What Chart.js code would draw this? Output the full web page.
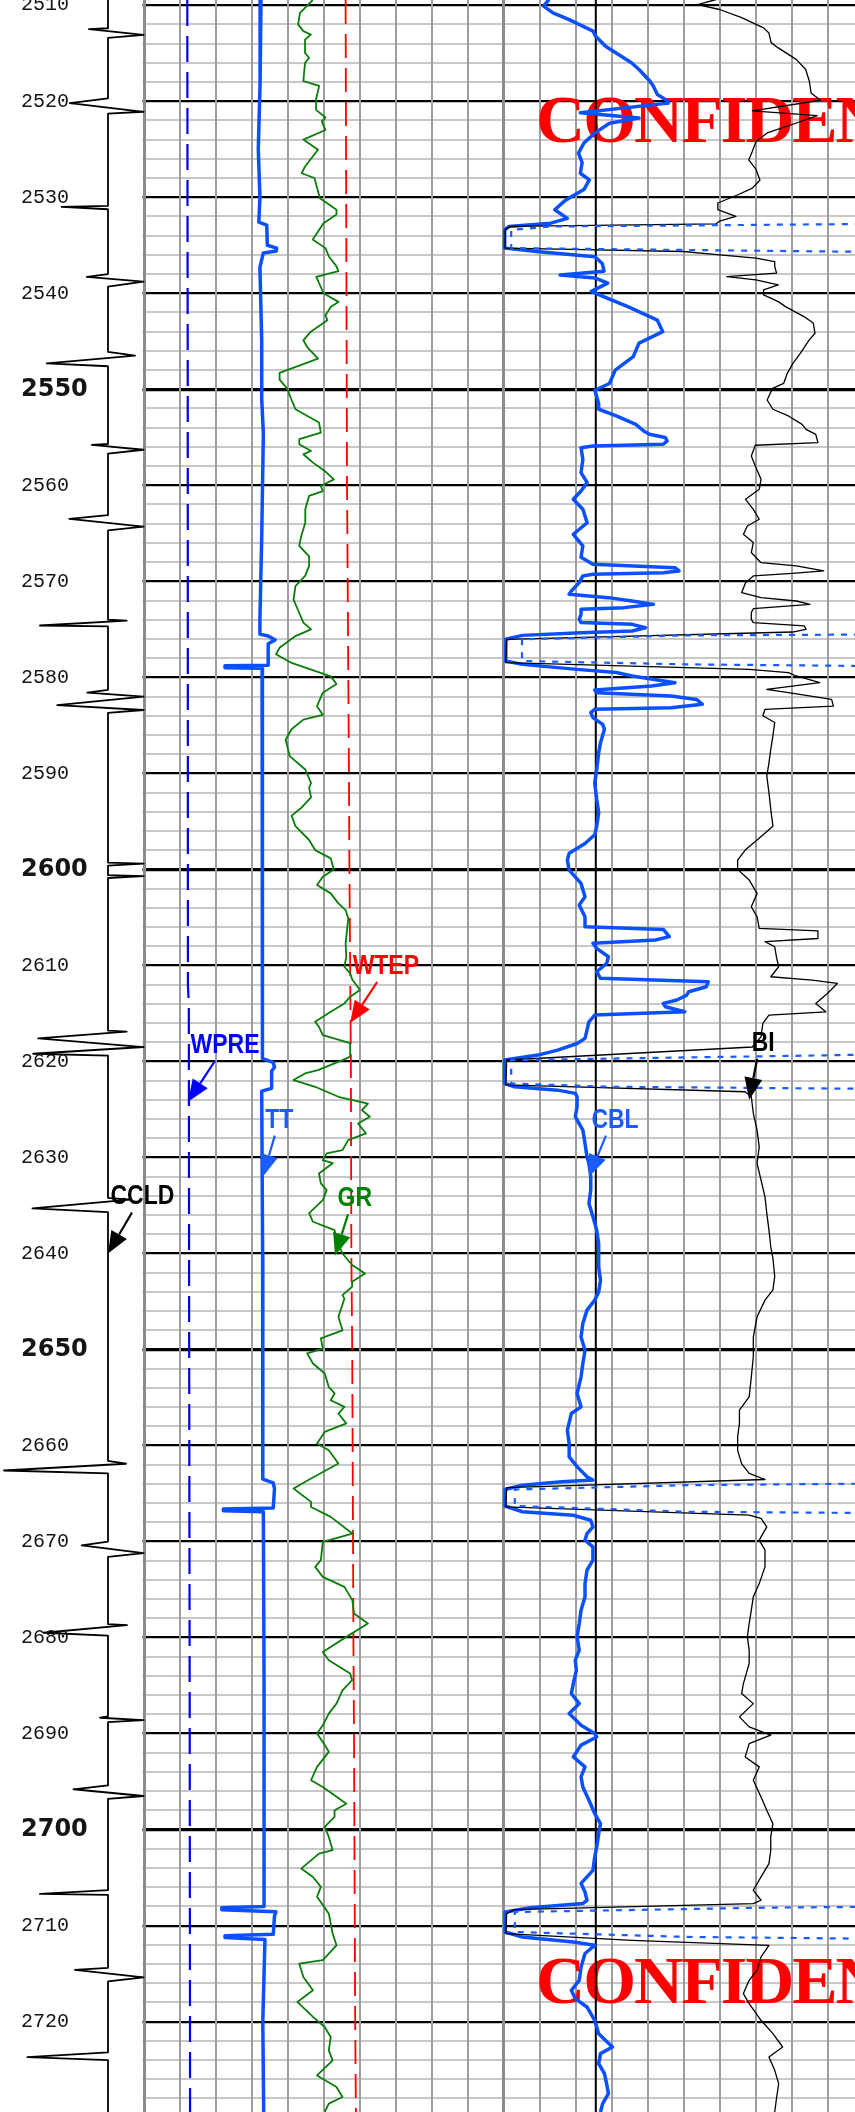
<!DOCTYPE html>
<html>
<head>
<meta charset="utf-8">
<title>Cement bond log</title>
<script src="https://cdn.jsdelivr.net/npm/chart.js@4.4.1/dist/chart.umd.min.js"></script>
<style>
  html, body { margin: 0; padding: 0; background: #fff; }
  canvas { display: block; }
</style>
</head>
<body>
<canvas id="logChart" width="855" height="2112"></canvas>
<script>
// depth window of the sheet (m)
const depthTop = 2509.46;
const depthBase = 2729.41;
const depthLabels = [2510, 2520, 2530, 2540, 2550, 2560, 2570, 2580, 2590, 2600, 2610,
    2620, 2630, 2640, 2650, 2660, 2670, 2680, 2690, 2700, 2710, 2720];
const boldDepths = [2550, 2600, 2650, 2700];

// curves, rows are [depth m, value]
// casing collar locator
const ccld = [
    [2509.46, 0], [2512.4, 0], [2512.5, -5.3], [2513.1, 9.9], [2513.4, 0],
    [2519.7, 0], [2520.2, -10.6], [2521.1, 9.9], [2521.3, 0],
    [2530.9, 0], [2531.0, -12.9], [2531.25, 0],
    [2538.0, 0], [2538.3, -5.9], [2538.8, 9.9], [2539.3, 0],
    [2546.1, 0], [2546.5, 7.5], [2547.3, -17.0], [2547.6, 0],
    [2555.7, 0], [2555.8, -4.5], [2556.3, 9.9], [2556.7, 0],
    [2563.1, 0], [2563.5, -10.75], [2564.3, 9.9], [2564.7, 0],
    [2574.0, 0], [2574.1, 5.2], [2574.6, -18.9], [2574.7, 0],
    [2581.3, 0], [2581.6, -5.75], [2582.0, 9.9], [2582.9, -14.1], [2583.4, 9.9], [2583.7, 0],
    [2599.3, 0], [2599.4, 9.9], [2599.6, 0], [2600.6, 0], [2600.7, 9.9], [2600.9, 0],
    [2616.8, 0], [2616.9, 5.2], [2617.6, -19.4], [2618.5, 9.9], [2619.2, -20.8], [2619.4, 0],
    [2634.2, 0], [2634.4, 6.1], [2635.3, -21.0], [2635.7, 0],
    [2661.6, 0], [2661.9, 5.0], [2662.6, -28.9], [2662.9, 0],
    [2670.0, 0], [2670.4, -7.3], [2671.2, 9.9], [2671.6, 0],
    [2678.6, 0], [2678.7, 5.3], [2679.5, -18.0], [2679.8, 0],
    [2688.2, 0], [2688.35, -2.2], [2688.6, 9.9], [2688.8, 0],
    [2695.4, 0], [2695.8, -9.6], [2696.5, 9.9], [2696.8, 0],
    [2706.3, 0], [2706.7, -18.9], [2706.8, 0],
    [2714.4, 0], [2714.6, -9.2], [2715.4, 9.9], [2715.8, 0],
    [2723.2, 0], [2723.7, -22.4], [2724.0, 0], [2729.41, 0]
];

// gamma ray (gAPI)
const gr = [
    [2509.46, 70.3], [2510.8, 65.0], [2512.0, 64.2], [2512.7, 66.4], [2513.06, 69.5], [2513.58, 67.1],
    [2514.97, 67.1], [2515.5, 68.8], [2516.0, 67.1], [2517.9, 66.4], [2518.4, 73.0], [2519.8, 71.7],
    [2520.9, 71.7], [2521.7, 75.6], [2522.1, 74.1], [2523.0, 75.6], [2524.0, 66.4], [2525.05, 72.5],
    [2526.8, 67.1], [2527.5, 65.7], [2528.0, 71.0], [2530.1, 73.3], [2531.3, 80.2], [2531.8, 80.2],
    [2532.7, 74.8], [2534.4, 70.3], [2535.3, 75.6], [2536.2, 77.1], [2537.2, 80.2], [2537.7, 81.0],
    [2538.3, 71.8], [2540.0, 74.8], [2540.9, 81.0], [2541.4, 77.9], [2542.3, 75.6], [2542.8, 76.4],
    [2544.0, 69.5], [2544.9, 66.4], [2545.6, 68.0], [2546.8, 72.5], [2548.3, 56.5], [2549.0, 56.5],
    [2549.9, 59.6], [2551.3, 61.8], [2552.08, 63.1], [2553.47, 72.9], [2554.51, 73.7], [2555.2, 64.7],
    [2555.73, 64.7], [2556.42, 69.6], [2556.77, 66.4], [2557.64, 70.4], [2558.5, 75.3], [2559.38, 79.1],
    [2560.07, 73.7], [2560.6, 74.5], [2561.1, 68.8], [2562.5, 67.2], [2563.9, 67.2], [2565.3, 65.5],
    [2566.3, 64.7], [2567.4, 68.8], [2568.4, 68.8], [2569.4, 67.2], [2570.5, 63.1], [2571.9, 62.3],
    [2573.3, 64.7], [2574.3, 66.4], [2575.0, 69.6], [2575.7, 63.1], [2576.9, 56.6], [2577.6, 55.0],
    [2578.5, 61.5], [2579.9, 77.8], [2580.7, 80.2], [2581.6, 74.5], [2583.0, 72.1], [2583.9, 74.5],
    [2584.4, 66.4], [2585.4, 61.5], [2586.5, 59.0], [2588.2, 60.7], [2589.6, 67.2], [2591.0, 69.6],
    [2591.5, 68.8], [2592.5, 69.6], [2593.6, 65.5], [2594.4, 61.5], [2595.5, 63.1], [2596.94, 68.8],
    [2597.99, 71.3], [2598.85, 77.8], [2600.0, 79.1], [2600.76, 74.5], [2601.63, 72.1], [2602.5, 77.8],
    [2603.54, 81.0], [2604.24, 84.0], [2605.1, 85.1], [2606.3, 84.6], [2607.7, 84.0], [2609.1, 84.3],
    [2610.14, 83.5], [2610.83, 85.9], [2611.5, 86.8], [2612.57, 90.0], [2613.26, 85.9], [2613.96, 83.5],
    [2614.83, 77.8], [2615.87, 71.3], [2616.4, 72.9], [2617.26, 74.5], [2618.1, 85.9], [2619.5, 85.9],
    [2619.86, 82.7], [2620.9, 72.5], [2621.25, 67.1], [2621.94, 62.3], [2622.64, 71.3], [2623.68, 81.0],
    [2624.4, 93.3], [2625.07, 90.8], [2625.76, 94.1], [2626.46, 89.2], [2627.5, 92.5], [2628.2, 85.1],
    [2629.24, 82.7], [2629.58, 76.1], [2630.28, 74.5], [2630.6, 78.6], [2631.67, 72.9], [2632.7, 73.7],
    [2633.4, 76.1], [2634.44, 74.5], [2635.8, 68.8], [2636.7, 70.4], [2637.57, 79.4], [2638.6, 80.2],
    [2640.0, 82.7], [2641.2, 86.7], [2642.08, 92.1], [2642.95, 86.7], [2643.47, 86.7], [2644.34, 82.7],
    [2644.7, 83.5], [2646.6, 81.0], [2648.0, 82.7], [2648.85, 73.7], [2649.9, 74.5], [2650.4, 68.0],
    [2651.46, 70.4], [2652.5, 75.3], [2653.9, 77.0], [2654.58, 79.4], [2655.28, 77.8], [2655.97, 83.5],
    [2656.67, 81.0], [2657.7, 84.3], [2658.58, 75.3], [2659.8, 72.1], [2660.5, 77.0], [2661.88, 81.0],
    [2663.44, 69.6], [2664.48, 62.3], [2665.87, 69.6], [2666.4, 69.6], [2667.43, 77.8], [2669.17, 86.8],
    [2670.03, 74.5], [2671.94, 73.7], [2672.64, 71.3], [2673.68, 74.5], [2674.72, 83.5], [2676.1, 86.8],
    [2677.5, 87.5], [2678.54, 93.3], [2679.93, 84.3], [2681.5, 74.5], [2682.36, 77.0], [2683.75, 85.9],
    [2684.44, 86.7], [2685.49, 82.7], [2686.88, 80.2], [2687.92, 77.0], [2689.13, 74.5], [2690.0, 72.1],
    [2690.87, 74.5], [2691.9, 77.0], [2693.47, 72.1], [2694.86, 69.6], [2695.56, 74.5], [2697.3, 84.3],
    [2697.99, 79.4], [2698.68, 79.4], [2699.72, 75.3], [2700.76, 77.0], [2702.15, 78.6], [2702.5, 72.9],
    [2704.06, 65.5], [2704.93, 70.4], [2705.97, 73.7], [2707.0, 72.1], [2708.75, 77.0], [2710.83, 78.6],
    [2712.05, 80.2], [2713.6, 74.5], [2713.96, 64.7], [2715.35, 66.4], [2716.74, 70.4], [2717.95, 63.9],
    [2719.5, 70.4], [2720.56, 75.3], [2721.6, 77.8], [2722.99, 77.0], [2724.03, 78.6], [2725.6, 72.1],
    [2726.8, 80.2], [2727.85, 82.7], [2728.54, 77.0], [2729.41, 75.3]
];

// transit time (us)
const tt = [
    [2509.46, 335.0], [2518.0, 335.5], [2525.0, 336.5], [2530.0, 335.6], [2532.6, 336.2], [2532.9, 331.8],
    [2535.0, 331.5], [2535.3, 326.3], [2535.6, 326.5], [2535.8, 333.7], [2537.3, 335.6], [2545.0, 334.6],
    [2551.0, 334.6], [2554.6, 333.7], [2565.4, 334.6], [2574.0, 335.6], [2575.5, 335.6], [2575.7, 331.0],
    [2576.1, 327.2], [2576.5, 331.0], [2578.75, 331.0], [2578.8, 355.0], [2579.0, 355.0], [2579.05, 334.4],
    [2590.0, 334.4], [2600.0, 334.0], [2610.0, 334.4], [2619.7, 334.0], [2620.1, 328.2], [2620.6, 327.5],
    [2621.0, 329.1], [2622.8, 329.1], [2623.1, 334.6], [2640.0, 334.1], [2663.5, 334.0], [2663.9, 328.2],
    [2664.5, 327.5], [2666.5, 328.2], [2666.6, 355.9], [2666.8, 355.9], [2666.9, 333.7], [2685.0, 333.3],
    [2700.0, 333.3], [2708.0, 333.3], [2708.15, 356.8], [2708.35, 356.8], [2708.55, 326.7], [2709.0, 327.5],
    [2710.9, 328.2], [2711.05, 355.0], [2711.25, 355.0], [2711.45, 332.8], [2720.0, 334.0], [2729.41, 333.5]
];

// well pressure (MPa) and well temperature (degC)
const wpre = [[2509.46, 24.05], [2550, 24.3], [2612, 24.4], [2614, 24.9], [2650, 25.1], [2690, 25.4], [2729.41, 25.6]];
const wtep = [[2509.46, 84.0], [2560, 84.6], [2590, 85.4], [2600, 85.6], [2620, 86.2], [2640, 86.4],
    [2650, 86.75], [2670, 87.1], [2680, 87.25], [2690, 87.5], [2720, 88.0], [2729.41, 88.3]];

// cement bond amplitude (mV)
const cbl = [
    [2509.41, 12.5], [2510.1, 11.0], [2510.8, 13.6], [2511.5, 18.1], [2512.7, 24.75], [2513.2, 25.4],
    [2514.3, 28.3], [2516.0, 35.4], [2516.7, 37.5], [2517.9, 40.5], [2518.45, 41.5], [2519.3, 42.6],
    [2520.0, 45.6], [2520.2, 45.6], [2521.2, 21.2], [2521.75, 37.5], [2522.3, 29.3], [2523.3, 25.3],
    [2524.35, 22.2], [2525.4, 20.7], [2526.4, 21.7], [2527.5, 21.2], [2528.2, 23.7], [2529.2, 22.2],
    [2530.3, 17.1], [2531.3, 14.1], [2532.2, 17.6], [2532.7, 13.0], [2533.05, 1.3], [2533.4, 0.2],
    [2535.3, 0.2], [2535.65, 9.0], [2536.2, 25.25], [2536.9, 27.3], [2537.7, 27.8], [2538.1, 15.6],
    [2538.4, 25.25], [2538.95, 28.8], [2539.8, 24.25], [2540.3, 27.3], [2541.4, 34.4], [2542.8, 42.6],
    [2544.0, 44.1], [2545.2, 37.5], [2546.6, 35.9], [2548.0, 30.9], [2549.4, 29.3], [2550.1, 25.25],
    [2551.5, 26.3], [2552.08, 26.3], [2552.78, 31.2], [2553.65, 36.6], [2554.34, 38.8], [2554.69, 40.4],
    [2555.03, 44.8], [2555.38, 45.3], [2555.73, 44.25], [2555.9, 24.7], [2556.08, 21.4], [2557.3, 21.9],
    [2558.68, 21.4], [2559.72, 23.1], [2560.6, 21.4], [2561.46, 19.25], [2562.5, 21.9], [2563.9, 23.1],
    [2565.1, 19.25], [2566.3, 21.9], [2567.5, 21.4], [2568.23, 24.7], [2568.58, 47.5], [2568.92, 48.6],
    [2569.1, 44.25], [2569.27, 24.7], [2569.44, 21.9], [2570.14, 20.9], [2571.0, 18.7], [2571.35, 18.1],
    [2571.7, 29.0], [2572.05, 35.6], [2572.4, 41.5], [2572.74, 33.4], [2572.9, 21.4], [2573.44, 21.4],
    [2573.96, 20.9], [2574.3, 21.4], [2574.48, 35.6], [2574.83, 39.3], [2575.17, 35.6], [2575.35, 21.4],
    [2575.63, 5.1], [2576.04, 0.5], [2578.3, 0.5], [2578.65, 5.1], [2579.17, 20.3], [2579.5, 31.2],
    [2579.86, 35.6], [2580.56, 47.5], [2580.9, 41.0], [2581.32, 25.2], [2581.6, 25.75], [2581.94, 46.4],
    [2582.3, 53.5], [2582.8, 55.1], [2583.16, 46.4], [2583.33, 25.2], [2583.68, 24.1], [2584.2, 24.7],
    [2584.9, 27.4], [2585.4, 27.9], [2586.8, 26.8], [2587.85, 26.3], [2589.6, 25.75], [2591.0, 25.2],
    [2592.7, 25.75], [2594.1, 26.3], [2595.5, 25.75], [2596.4, 25.2], [2597.3, 22.5], [2598.33, 18.1],
    [2599.03, 17.6], [2600.07, 18.1], [2601.46, 21.4], [2602.85, 22.5], [2603.72, 20.9], [2604.93, 22.5],
    [2605.97, 22.5], [2606.25, 44.25], [2607.0, 45.9], [2607.36, 42.05], [2607.7, 24.7], [2608.23, 25.75],
    [2609.1, 29.0], [2609.8, 28.5], [2610.66, 25.75], [2611.35, 26.8], [2611.7, 56.75], [2612.22, 56.2],
    [2612.74, 51.3], [2613.1, 50.75], [2613.6, 48.05], [2613.96, 44.25], [2614.3, 44.8], [2614.83, 50.2],
    [2615.17, 25.2], [2615.87, 23.6], [2616.74, 23.05], [2617.6, 22.5], [2618.13, 20.3], [2618.82, 14.9],
    [2619.34, 9.4], [2619.86, 0.2], [2622.3, 0.2], [2622.64, 2.9], [2622.99, 14.9], [2623.33, 19.8],
    [2623.68, 20.3], [2624.72, 20.3], [2625.76, 19.8], [2627.15, 21.9], [2628.54, 22.5], [2629.93, 23.05],
    [2630.63, 23.6], [2632.0, 24.1], [2633.4, 24.1], [2634.8, 23.6], [2636.18, 24.7], [2637.57, 25.75],
    [2638.96, 26.3], [2641.4, 26.3], [2642.8, 26.8], [2644.0, 26.3], [2644.86, 25.2], [2645.9, 23.05],
    [2647.3, 21.9], [2648.7, 21.4], [2650.07, 22.5], [2651.46, 21.9], [2652.85, 21.4], [2654.58, 20.3],
    [2655.97, 21.4], [2656.67, 18.7], [2658.4, 17.6], [2659.8, 18.1], [2661.18, 18.1], [2662.2, 20.3],
    [2663.26, 23.05], [2663.6, 24.7], [2663.78, 16.0], [2664.13, 5.1], [2664.58, 0.3], [2666.3, 0.3],
    [2666.9, 5.1], [2667.26, 19.25], [2667.78, 24.1], [2668.47, 24.7], [2669.17, 23.05], [2669.86, 22.5],
    [2670.56, 24.7], [2671.94, 24.7], [2672.99, 23.05], [2674.38, 22.5], [2675.76, 22.5], [2677.15, 21.4],
    [2678.54, 20.9], [2679.93, 20.3], [2681.3, 20.9], [2682.36, 19.8], [2683.4, 20.1], [2684.8, 19.25],
    [2685.83, 18.7], [2686.88, 20.9], [2687.92, 18.1], [2689.13, 21.4], [2690.0, 25.2], [2690.35, 25.75],
    [2691.2, 21.4], [2692.43, 19.25], [2693.47, 22.5], [2694.5, 21.4], [2695.56, 21.9], [2696.94, 23.6],
    [2698.33, 25.2], [2699.38, 26.8], [2700.42, 26.3], [2701.8, 25.75], [2702.85, 25.2], [2704.24, 24.7],
    [2705.6, 21.4], [2706.5, 22.5], [2707.36, 23.05], [2707.7, 21.9], [2708.13, 7.3], [2708.58, 0.3],
    [2710.66, 0.3], [2711.18, 5.1], [2711.7, 19.25], [2712.05, 25.2], [2712.9, 22.5], [2714.3, 21.4],
    [2715.7, 20.9], [2716.74, 18.7], [2717.6, 19.8], [2718.47, 23.05], [2719.86, 25.2], [2721.25, 26.3],
    [2722.64, 30.1], [2723.33, 26.8], [2724.38, 26.3], [2725.4, 27.9], [2726.46, 28.5], [2727.5, 29.0],
    [2728.54, 27.4], [2729.41, 26.8]
];
const cblCutoff = 25.5;

// bond index
const bi = [
    [2509.41, 0.589], [2509.93, 0.538], [2510.45, 0.599], [2511.3, 0.66], [2512.36, 0.721], [2512.9, 0.736],
    [2513.9, 0.742], [2514.45, 0.762], [2515.67, 0.8125], [2516.7, 0.838], [2517.9, 0.848], [2519.14, 0.853],
    [2519.9, 0.879], [2521.0, 0.69], [2521.5, 0.87], [2522.4, 0.8025], [2523.3, 0.731], [2524.2, 0.7],
    [2525.2, 0.69], [2526.1, 0.68], [2527.1, 0.7], [2528.2, 0.711], [2529.05, 0.69], [2529.74, 0.65],
    [2530.6, 0.594], [2531.3, 0.594], [2532.0, 0.644], [2532.5, 0.599], [2532.77, 0.589], [2533.04, 0.018],
    [2533.39, 0.003], [2535.3, 0.003], [2535.65, 0.497], [2536.0, 0.599], [2536.35, 0.7], [2536.7, 0.752],
    [2537.2, 0.752], [2537.9, 0.757], [2538.26, 0.619], [2538.6, 0.7], [2539.13, 0.762], [2539.65, 0.721],
    [2540.17, 0.721], [2540.87, 0.762], [2541.39, 0.782], [2542.43, 0.833], [2543.1, 0.859], [2544.17, 0.864],
    [2544.86, 0.848], [2546.25, 0.823], [2547.3, 0.8025], [2548.34, 0.787], [2549.38, 0.777], [2549.9, 0.746],
    [2551.12, 0.731], [2552.08, 0.747], [2552.78, 0.79], [2553.65, 0.828], [2554.17, 0.839], [2554.69, 0.866],
    [2555.56, 0.872], [2555.83, 0.698], [2556.94, 0.687], [2557.99, 0.698], [2559.38, 0.714], [2560.42, 0.709],
    [2561.46, 0.671], [2562.5, 0.6925], [2563.54, 0.709], [2564.24, 0.676], [2565.1, 0.665], [2565.97, 0.6925],
    [2567.0, 0.687], [2568.06, 0.714], [2568.4, 0.812], [2568.92, 0.888], [2569.17, 0.801], [2569.44, 0.6925],
    [2570.14, 0.671], [2571.18, 0.66], [2571.7, 0.714], [2572.05, 0.812], [2572.4, 0.85], [2572.85, 0.6925],
    [2573.26, 0.687], [2573.96, 0.687], [2574.3, 0.6925], [2574.65, 0.834], [2575.0, 0.839], [2575.28, 0.801],
    [2576.04, 0.0075], [2578.47, 0.005], [2579.17, 0.681], [2579.5, 0.79], [2579.86, 0.812], [2580.56, 0.877],
    [2581.25, 0.73], [2581.6, 0.79], [2582.3, 0.91], [2582.99, 0.915], [2583.33, 0.725], [2584.0, 0.719],
    [2584.7, 0.752], [2586.1, 0.747], [2587.5, 0.741], [2588.9, 0.736], [2590.28, 0.73], [2592.0, 0.736],
    [2593.75, 0.741], [2595.5, 0.747], [2596.94, 0.703], [2597.99, 0.67], [2599.03, 0.649], [2600.0, 0.649],
    [2601.1, 0.681], [2602.5, 0.703], [2603.9, 0.687], [2604.93, 0.703], [2606.15, 0.709], [2606.4, 0.872],
    [2607.2, 0.872], [2607.53, 0.725], [2608.06, 0.752], [2609.27, 0.7575], [2610.14, 0.763], [2611.18, 0.741],
    [2611.53, 0.856], [2611.88, 0.926], [2612.9, 0.899], [2613.96, 0.866], [2614.83, 0.894], [2615.17, 0.736],
    [2616.04, 0.719], [2617.43, 0.714], [2618.5, 0.69], [2619.85, 0.0075], [2622.45, 0.005], [2623.16, 0.67],
    [2623.68, 0.687], [2625.4, 0.6925], [2627.15, 0.703], [2628.9, 0.709], [2630.63, 0.703], [2632.36, 0.714],
    [2634.1, 0.725], [2635.83, 0.73], [2637.57, 0.736], [2639.3, 0.741], [2640.5, 0.747], [2642.4, 0.752],
    [2643.8, 0.747], [2644.86, 0.725], [2646.6, 0.703], [2648.7, 0.6925], [2650.76, 0.6925], [2652.85, 0.687],
    [2654.93, 0.681], [2656.32, 0.654], [2657.7, 0.654], [2659.1, 0.649], [2660.5, 0.649], [2661.88, 0.66],
    [2662.9, 0.681], [2663.54, 0.725], [2664.38, 0.0075], [2666.4, 0.005], [2667.26, 0.681], [2667.6, 0.714],
    [2668.47, 0.73], [2669.86, 0.709], [2670.9, 0.725], [2672.64, 0.725], [2674.38, 0.709], [2675.76, 0.6925],
    [2677.15, 0.687], [2678.54, 0.681], [2679.93, 0.676], [2681.3, 0.681], [2682.7, 0.681], [2684.8, 0.665],
    [2685.83, 0.66], [2686.88, 0.6925], [2688.26, 0.654], [2689.3, 0.681], [2690.17, 0.741], [2691.04, 0.681],
    [2692.43, 0.67], [2693.47, 0.709], [2694.86, 0.6925], [2696.6, 0.714], [2697.99, 0.73], [2699.38, 0.747],
    [2700.76, 0.741], [2702.15, 0.741], [2703.54, 0.736], [2704.93, 0.714], [2706.32, 0.6925], [2707.36, 0.714],
    [2707.7, 0.6925], [2708.33, 0.029], [2708.75, 0.0075], [2710.83, 0.005], [2711.53, 0.356], [2712.05, 0.736],
    [2713.26, 0.714], [2714.65, 0.703], [2715.7, 0.681], [2717.08, 0.665], [2718.13, 0.681], [2719.86, 0.714],
    [2721.25, 0.747], [2722.64, 0.774], [2723.68, 0.736], [2725.07, 0.752], [2726.46, 0.763], [2727.85, 0.7575],
    [2729.41, 0.752]
];

// curve name callouts: tip sits on the curve at this value / depth
const callouts = [
    {text: 'WPRE', color: '#0000ff', axis: 'xWPRE', value: 24.5, depth: 2624.2, lean: 27},
    {text: 'TT', color: '#1a5cff', axis: 'xTT', value: 334.0, depth: 2632.0, lean: 12},
    {text: 'CCLD', color: '#000000', axis: 'xCCL', value: 0, depth: 2640.0, lean: 24},
    {text: 'GR', color: '#008000', axis: 'xGR', value: 79.6, depth: 2640.2, lean: 13},
    {text: 'WTEP', color: '#ff0000', axis: 'xWTEP', value: 85.9, depth: 2616.0, lean: 27},
    {text: 'CBL', color: '#1a5cff', axis: 'xCBL', value: 23.6, depth: 2632.0, lean: 17},
    {text: 'BI', color: '#000000', axis: 'xBI', value: 0.681, depth: 2624.0, lean: 8}
];
const stampDepths = [2524.2, 2718.1];

// sheet layout (px): depth track, track 2, track 3
const W = 855;
const T1 = [0, 144], T2 = [144, 504], T3 = [504, 864];
const DIV = 36;

function trackAxis(track, vLeft, vRight) {
    const k = (vRight - vLeft) / (track[1] - track[0]);
    const a = vLeft - track[0] * k;
    const b = vLeft + (W - track[0]) * k;
    const axis = {type: 'linear', display: false, bounds: 'data'};
    if (a < b) { axis.min = a; axis.max = b; } else { axis.min = b; axis.max = a; axis.reverse = true; }
    return axis;
}

function curve(rows, axis, style) {
    return Object.assign({
        data: rows.map(r => ({x: r[1], y: r[0]})),
        xAxisID: axis,
        yAxisID: 'y',
        showLine: true,
        pointRadius: 0,
        pointHoverRadius: 0,
        fill: false,
        tension: 0,
        borderJoinStyle: 'round'
    }, style);
}

// axes must not push the plot area in from the canvas edges
function flush(axis) {
    if (axis.isHorizontal()) axis.height = 0; else axis.width = 0;
    axis.paddingTop = 0;
    axis.paddingBottom = 0;
    axis.paddingLeft = 0;
    axis.paddingRight = 0;
}

const gridDepths = [];
for (let d = 2510; d <= 2728; d += 2) gridDepths.push(d);
const gridCols = [];
for (let c = 0; c < 20; c++) gridCols.push(c);

const sheetPlugin = {
    id: 'sheet',
    beforeDatasetsDraw(chart) {
        const {ctx, chartArea, scales} = chart;
        const edge = scales.xGrid.getPixelForValue(0);
        ctx.save();
        ctx.fillStyle = '#ffffff';
        ctx.fillRect(chartArea.left, chartArea.top, edge - 1.5 - chartArea.left, chartArea.bottom - chartArea.top);
        ctx.fillStyle = '#ff0000';
        ctx.font = 'bold 68px "Liberation Serif", "Times New Roman", serif';
        ctx.letterSpacing = '-2px';
        ctx.textBaseline = 'alphabetic';
        stampDepths.forEach(d => {
            ctx.fillText('CONFIDENTIAL', scales.xGrid.getPixelForValue(10.89), scales.y.getPixelForValue(d));
        });
        ctx.restore();
    },
    afterDraw(chart) {
        const {ctx, scales} = chart;
        callouts.forEach(c => {
            const tx = scales[c.axis].getPixelForValue(c.value);
            const ty = scales.y.getPixelForValue(c.depth);
            const sx = tx + c.lean, sy = ty - 41;
            const len = Math.hypot(tx - sx, ty - sy);
            const ux = (tx - sx) / len, uy = (ty - sy) / len;
            const bx = tx - ux * 22, by = ty - uy * 22;
            ctx.save();
            ctx.strokeStyle = c.color;
            ctx.fillStyle = c.color;
            ctx.lineWidth = 2.2;
            ctx.beginPath();
            ctx.moveTo(sx, sy);
            ctx.lineTo(bx, by);
            ctx.stroke();
            ctx.beginPath();
            ctx.moveTo(tx, ty);
            ctx.lineTo(bx - uy * 9, by + ux * 9);
            ctx.lineTo(bx + uy * 9, by - ux * 9);
            ctx.closePath();
            ctx.fill();
            ctx.translate(tx + 2.5, ty - 49);
            ctx.scale(0.82, 1);
            ctx.font = 'bold 28px "Liberation Sans", Arial, sans-serif';
            ctx.textBaseline = 'alphabetic';
            ctx.fillText(c.text, 0, 0);
            ctx.restore();
        });
    }
};

const ctx = document.getElementById('logChart');
const logChart = new Chart(ctx, {
    type: 'scatter',
    data: {
        datasets: [
            curve(cbl, 'xCBL10', {borderColor: '#1a5cff', borderWidth: 2.2, borderDash: [6, 7]}),
            curve(bi, 'xBI', {borderColor: '#000000', borderWidth: 1.3}),
            curve(cbl, 'xCBL', {borderColor: '#0a50ff', borderWidth: 3.5}),
            curve(tt, 'xTT', {borderColor: '#0a50ff', borderWidth: 3.5}),
            curve(wpre, 'xWPRE', {borderColor: '#0000ee', borderWidth: 2.2, borderDash: [26, 10]}),
            curve(gr, 'xGR', {borderColor: '#0a7d0a', borderWidth: 1.8}),
            curve(wtep, 'xWTEP', {borderColor: '#ff0000', borderWidth: 1.8, borderDash: [24, 10]}),
            curve(ccld, 'xCCL', {borderColor: '#000000', borderWidth: 1.8}),
            curve([[depthTop, cblCutoff], [depthBase, cblCutoff]], 'xCBL', {borderColor: '#000000', borderWidth: 2})
        ]
    },
    options: {
        responsive: false,
        devicePixelRatio: 1,
        animation: false,
        events: [],
        layout: {padding: 0},
        plugins: {
            legend: {display: false},
            tooltip: {enabled: false}
        },
        scales: {
            y: {
                type: 'linear',
                position: 'left',
                reverse: true,
                bounds: 'data',
                min: depthTop,
                max: depthBase,
                afterBuildTicks: (axis) => { axis.ticks = gridDepths.map(v => ({value: v})); },
                afterFit: flush,
                border: {display: false},
                grid: {
                    drawTicks: false,
                    color: (c) => c.tick.value % 10 === 0 ? '#000000' : '#c8c8c8',
                    lineWidth: (c) => c.tick.value % 50 === 0 ? 3.2 : (c.tick.value % 10 === 0 ? 2.2 : 2)
                },
                ticks: {
                    z: 1,
                    mirror: true,
                    padding: 21,
                    autoSkip: false,
                    color: '#151515',
                    font: (c) => boldDepths.includes(c.tick && c.tick.value)
                        ? {family: '"DejaVu Sans", sans-serif', size: 24, weight: 'bold'}
                        : {family: '"Liberation Mono", monospace', size: 20, weight: 'normal'},
                    callback: (v) => depthLabels.includes(v) ? String(v) : ''
                }
            },
            xGrid: {
                type: 'linear',
                position: 'top',
                bounds: 'data',
                min: -T2[0] / DIV,
                max: (W - T2[0]) / DIV,
                afterBuildTicks: (axis) => { axis.ticks = gridCols.map(v => ({value: v})); },
                afterFit: flush,
                border: {display: false},
                ticks: {display: false},
                grid: {
                    drawTicks: false,
                    color: (c) => c.tick.value % 10 === 0 ? '#8c8c8c' : '#9e9e9e',
                    lineWidth: (c) => c.tick.value % 10 === 0 ? 3 : 2
                }
            },
            xCCL: trackAxis(T1, -30, 10),
            xGR: trackAxis(T2, 0, 150),
            xTT: trackAxis(T2, 400, 200),
            xWPRE: trackAxis(T2, 0, 200),
            xWTEP: trackAxis(T2, 0, 150),
            xCBL: trackAxis(T3, 0, 100),
            xCBL10: trackAxis(T3, 0, 10),
            xBI: trackAxis(T3, 0, 1)
        }
    },
    plugins: [sheetPlugin]
});
</script>
</body>
</html>
